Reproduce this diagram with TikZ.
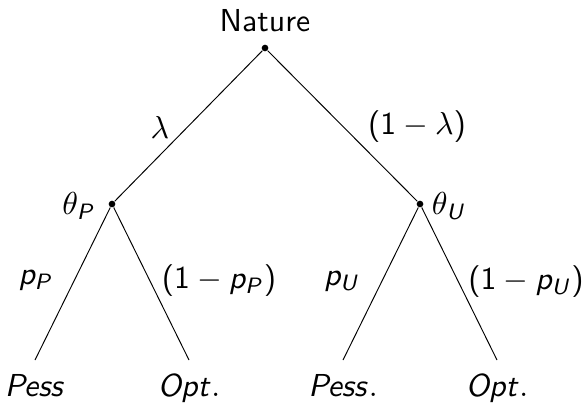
\documentclass[tikz,border=0pt]{standalone}
\usetikzlibrary{positioning}
% sans serif maths, beamer fashion
\SetSymbolFont{operators}{normal}{OT1}{cmss}{m}{n}
\DeclareMathAlphabet{\msf}{OT1}{cmss}{m}{sl}

\begin{document}
\begin{tikzpicture}[
  x=0.315pt, y=-0.315pt,
  font=\sffamily,
  line width=0.3pt,
  dec/.style={circle, fill, inner sep=0pt, minimum size=2.1pt},
  leaf/.style={anchor=north, inner xsep=0pt, inner ysep=4.5pt},
  lab/.style={inner sep=0pt}
]
\useasboundingbox (0,0) rectangle (584,402);

% decision nodes
\node[dec] (nat) at (265,48)  {};
\node[dec] (thP) at (112,204) {};
\node[dec] (thU) at (420,204) {};
\node[lab] (natlab) at (265,21) {Nature};
\node[lab] (thPlab) at (79,206)  {$\theta_{\msf{P}}$};
\node[lab] (thUlab) at (449,206) {$\theta_{\msf{U}}$};

% leaves
\node[leaf] (pp) at (35,360)  {$\msf{Pess}$};
\node[leaf] (po) at (189,360) {$\msf{Opt}.$};
\node[leaf] (up) at (343,360) {$\msf{Pess}.$};
\node[leaf] (uo) at (497,360) {$\msf{Opt}.$};

% branch probabilities
\node[lab] (lam)  at (160,127) {$\lambda$};
\node[lab] (lamc) at (417,127) {$(1-\lambda)$};
\node[lab] (pP)   at (36,281)  {$\msf{p}_{\msf{P}}$};
\node[lab] (pPc)  at (219,281) {$(1-\msf{p}_{\msf{P}})$};
\node[lab] (pU)   at (342,282) {$\msf{p}_{\msf{U}}$};
\node[lab] (pUc)  at (526,282) {$(1-\msf{p}_{\msf{U}})$};

\draw (nat) -- (thP);
\draw (nat) -- (thU);
\draw (thP) -- (pp.north);
\draw (thP) -- (po.north);
\draw (thU) -- (up.north);
\draw (thU) -- (uo.north);
\end{tikzpicture}
\end{document}
